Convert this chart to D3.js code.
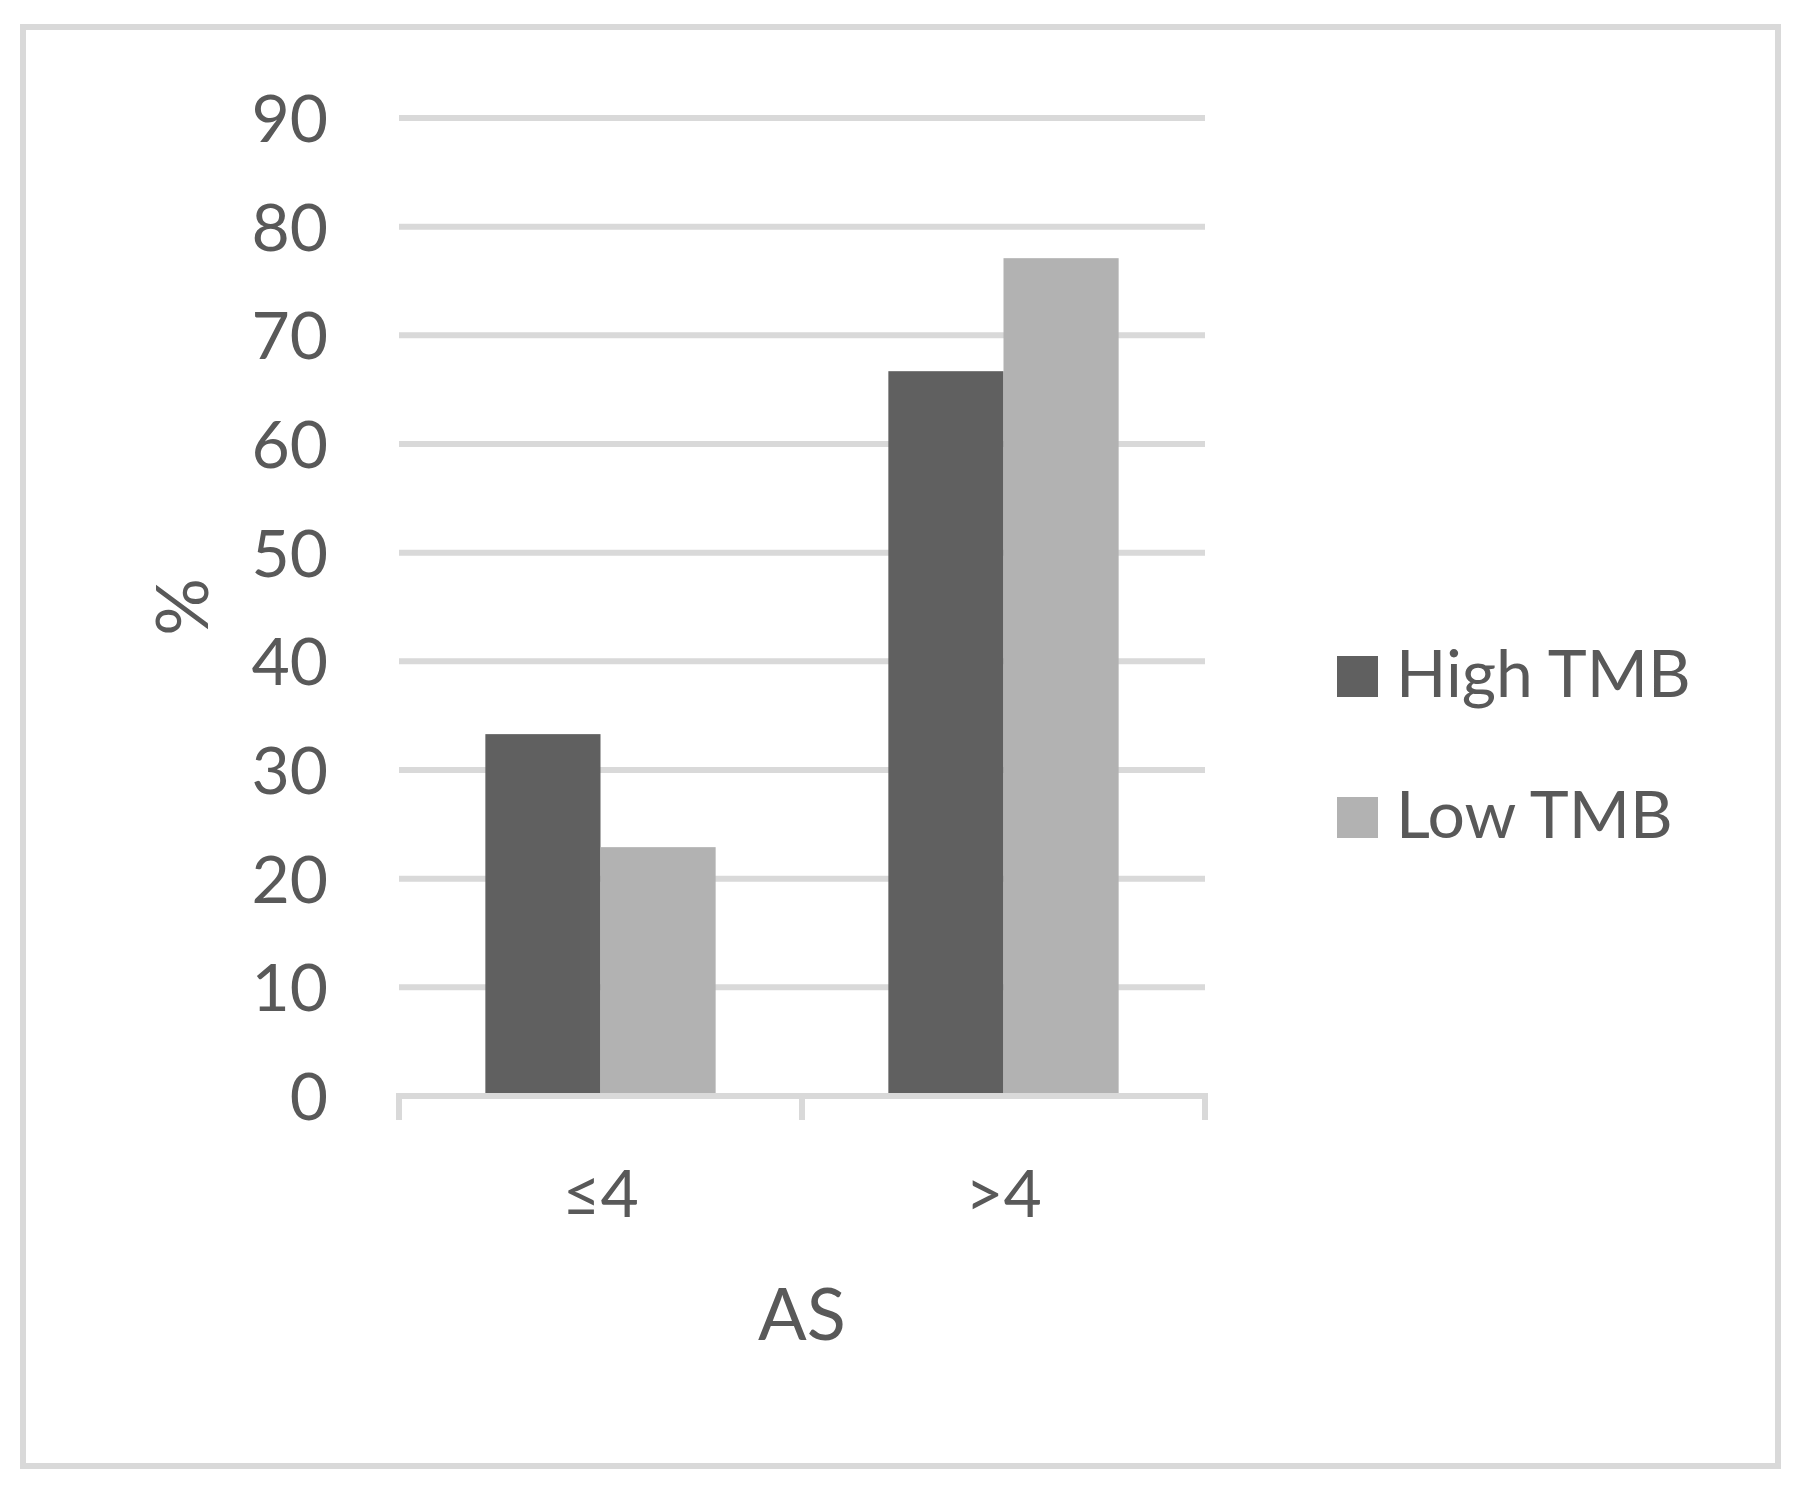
<!DOCTYPE html>
<html>
<head>
<meta charset="utf-8">
<script src="https://cdn.jsdelivr.net/npm/d3@7"></script>
<style>
  body { margin: 0; background: #fff; }
  text { font-family: Lato, "Open Sans", sans-serif; fill: #595959; }
</style>
</head>
<body>
<div id="chart"></div>
<script>
// chart data
const categories = ["≤4", ">4"];
const seriesNames = ["High TMB", "Low TMB"];
const highTMB = [33.3, 66.7];
const lowTMB = [22.9, 77.1];
const yTicks = [0, 10, 20, 30, 40, 50, 60, 70, 80, 90];
const colors = ["#606060", "#b2b2b2"];

const W = 1804, H = 1488;
const plot = { left: 399, right: 1205, top: 118, bottom: 1096 };
const gridColor = "#d9d9d9";

const svg = d3.select("#chart").append("svg")
  .attr("width", W)
  .attr("height", H);

// outer frame
svg.append("rect")
  .attr("x", 23).attr("y", 27)
  .attr("width", 1755).attr("height", 1439)
  .attr("fill", "#fff")
  .attr("stroke", gridColor)
  .attr("stroke-width", 6);

const x0 = d3.scaleBand()
  .domain(categories)
  .range([plot.left, plot.right])
  .paddingInner(0)
  .paddingOuter(0);

// gap width 150% -> group takes 2/(2+1.5) of band
const groupWidth = x0.bandwidth() * 2 / 3.5;
const x1 = d3.scaleBand()
  .domain(seriesNames)
  .range([0, groupWidth]);

const y = d3.scaleLinear()
  .domain([0, 90])
  .range([plot.bottom, plot.top]);

// gridlines
svg.append("g")
  .selectAll("line")
  .data(yTicks.filter(d => d > 0))
  .join("line")
  .attr("x1", plot.left).attr("x2", plot.right)
  .attr("y1", d => y(d)).attr("y2", d => y(d))
  .attr("stroke", gridColor)
  .attr("stroke-width", 6);

// y tick labels
svg.append("g")
  .selectAll("text")
  .data(yTicks)
  .join("text")
  .attr("x", 328)
  .attr("y", d => y(d) + 24)
  .attr("text-anchor", "end")
  .attr("font-size", 66)
  .text(d => d);

// bars
const rows = categories.map((c, i) => ({ cat: c, values: [highTMB[i], lowTMB[i]] }));
const groups = svg.append("g")
  .selectAll("g")
  .data(rows)
  .join("g")
  .attr("transform", d => `translate(${x0(d.cat) + (x0.bandwidth() - groupWidth) / 2},0)`);

groups.selectAll("rect")
  .data(d => d.values.map((v, j) => ({ key: seriesNames[j], value: v, j })))
  .join("rect")
  .attr("x", d => x1(d.key))
  .attr("width", x1.bandwidth())
  .attr("y", d => y(d.value))
  .attr("height", d => y(0) - y(d.value))
  .attr("fill", d => colors[d.j]);

// x axis line and ticks
const axis = svg.append("g");
axis.append("line")
  .attr("x1", plot.left - 3).attr("x2", plot.right + 3)
  .attr("y1", y(0)).attr("y2", y(0))
  .attr("stroke", gridColor)
  .attr("stroke-width", 6);
const tickPos = categories.map(c => x0(c)).concat([plot.right]);
axis.selectAll("line.tick")
  .data(tickPos)
  .join("line")
  .attr("class", "tick")
  .attr("x1", d => d).attr("x2", d => d)
  .attr("y1", y(0)).attr("y2", y(0) + 24)
  .attr("stroke", gridColor)
  .attr("stroke-width", 6);

// x category labels
svg.append("g")
  .selectAll("text")
  .data(categories)
  .join("text")
  .attr("x", d => x0(d) + x0.bandwidth() / 2)
  .attr("y", 1217)
  .attr("text-anchor", "middle")
  .attr("font-size", 66)
  .text(d => d);

// axis titles
svg.append("text")
  .attr("x", (plot.left + plot.right) / 2)
  .attr("y", 1340)
  .attr("text-anchor", "middle")
  .attr("font-size", 72)
  .text("AS");

svg.append("text")
  .attr("transform", `translate(208,${(plot.top + plot.bottom) / 2}) rotate(-90)`)
  .attr("text-anchor", "middle")
  .attr("font-size", 72)
  .text("%");

// legend
const legend = svg.append("g")
  .selectAll("g")
  .data(seriesNames)
  .join("g")
  .attr("transform", (d, i) => `translate(1337,${656 + i * 141})`);

legend.append("rect")
  .attr("width", 41).attr("height", 41)
  .attr("fill", (d, i) => colors[i]);

legend.append("text")
  .attr("x", 59)
  .attr("y", 41)
  .attr("font-size", 66)
  .text(d => d);
</script>
</body>
</html>
